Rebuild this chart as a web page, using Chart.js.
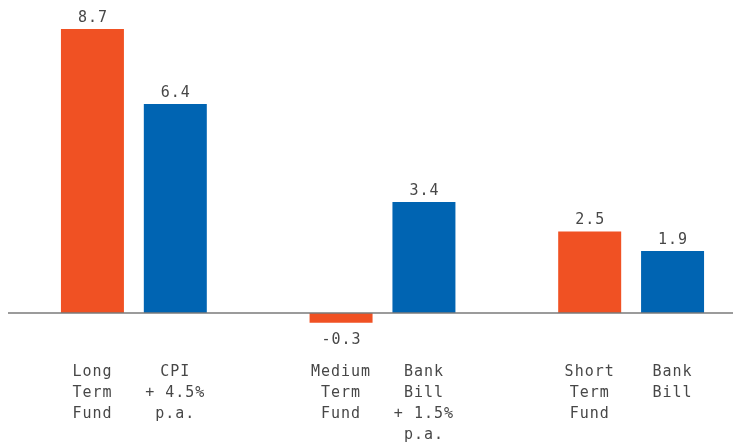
<!DOCTYPE html>
<html>
<head>
<meta charset="utf-8">
<script src="https://cdn.jsdelivr.net/npm/chart.js@4/dist/chart.umd.min.js"></script>
<style>
  html, body { margin: 0; padding: 0; background: #ffffff; }
  #wrap { width: 733px; height: 446px; position: relative; }
</style>
</head>
<body>
<div id="wrap"><canvas id="c"></canvas></div>
<script>
const categories = [
  ['Long', 'Term', 'Fund'],
  ['CPI', '+ 4.5%', 'p.a.'],
  '',
  ['Medium', 'Term', 'Fund'],
  ['Bank', 'Bill', '+ 1.5%', 'p.a.'],
  '',
  ['Short', 'Term', 'Fund'],
  ['Bank', 'Bill']
];
const values = [8.7, 6.4, null, -0.3, 3.4, null, 2.5, 1.9];
const barColors = ['#F05123', '#0064B2', '#ffffff', '#F05123', '#0064B2', '#ffffff', '#F05123', '#0064B2'];

const FONT = "'DejaVu Sans Mono', monospace";
const TEXT = '#474747';

const spacing = {
  id: 'spacing',
  beforeUpdate(chart) { chart.ctx.letterSpacing = '1px'; },
  beforeDraw(chart) { chart.ctx.letterSpacing = '1px'; }
};

const valueLabels = {
  id: 'valueLabels',
  afterDatasetsDraw(chart) {
    const ctx = chart.ctx;
    const meta = chart.getDatasetMeta(0);
    const yScale = chart.scales.y;
    const zeroY = yScale.getPixelForValue(0);
    ctx.save();
    // zero line
    ctx.strokeStyle = '#7a7a7a';
    ctx.lineWidth = 1.5;
    ctx.beginPath();
    ctx.moveTo(8, zeroY);
    ctx.lineTo(chart.width, zeroY);
    ctx.stroke();
    // labels
    ctx.letterSpacing = '1px';
    ctx.font = '15px ' + FONT;
    ctx.fillStyle = TEXT;
    ctx.textAlign = 'center';
    ctx.textBaseline = 'alphabetic';
    meta.data.forEach((el, i) => {
      const v = values[i];
      if (v === null || v === undefined) return;
      const txt = v.toFixed(1);
      if (v >= 0) {
        ctx.fillText(txt, el.x + 0.5, el.y - 7);
      } else {
        ctx.fillText(txt, el.x + 0.5, el.y + 21);
      }
    });
    ctx.restore();
  }
};

new Chart(document.getElementById('c'), {
  type: 'bar',
  data: {
    labels: categories,
    datasets: [{
      data: values,
      backgroundColor: barColors,
      borderWidth: 0,
      barPercentage: 0.76,
      categoryPercentage: 1.0
    }]
  },
  options: {
    responsive: true,
    maintainAspectRatio: false,
    animation: false,
    layout: { padding: { left: 51, right: 19, top: 29, bottom: -2 } },
    plugins: {
      legend: { display: false },
      tooltip: { enabled: false }
    },
    scales: {
      x: {
        grid: { display: false, drawTicks: false },
        border: { display: false },
        ticks: {
          autoSkip: false,
          maxRotation: 0,
          minRotation: 0,
          padding: 2,
          color: TEXT,
          font: { family: FONT, size: 15, lineHeight: 1.4 }
        }
      },
      y: {
        display: false,
        min: -1.44,
        max: 8.7
      }
    }
  },
  plugins: [spacing, valueLabels]
});
</script>
</body>
</html>
